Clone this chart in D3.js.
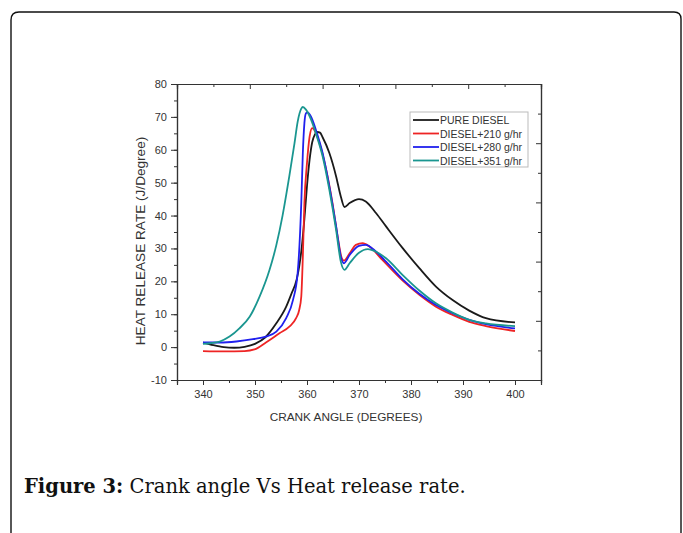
<!DOCTYPE html>
<html>
<head>
<meta charset="utf-8">
<script src="https://cdn.jsdelivr.net/npm/d3@7"></script>
<style>
  html, body { margin: 0; padding: 0; background: #fff; }
  svg { display: block; }
</style>
</head>
<body>
<svg id="chart" width="683" height="533"></svg>
<script>
// Crank angle (degrees) and heat release rate (J/Degree) for each fuel case
const pureDieselAngle = [340, 342, 344, 346, 348, 350, 352, 354, 356, 357, 358, 358.5, 359, 359.5, 360, 360.5, 361, 361.5, 362, 362.5, 363, 364.3, 365.6, 366.5, 367.2, 368.2, 370, 371.3, 373.3, 375.2, 378.4, 381.6, 384.8, 388, 391.2, 394.4, 400];
const pureDieselHRR   = [1.4, 0.6, 0.0, -0.2, 0.1, 1.0, 3.0, 7.0, 12.3, 16.2, 20.5, 24.5, 30.5, 39, 49, 57, 62.3, 64.6, 65.4, 65.2, 63.8, 59, 51.9, 45.8, 42.6, 43.8, 45, 44.3, 40.7, 36.7, 30.1, 24, 18.4, 14.3, 11.1, 8.8, 7.5];

const d210Angle = [340, 344, 348, 349.9, 352.1, 354.7, 356.6, 357.9, 358.5, 358.9, 359.2, 359.5, 360, 360.5, 361, 362.4, 363.7, 364.9, 365.9, 366.7, 367.1, 368.2, 369.4, 370.7, 372, 374.5, 378.4, 381.6, 384.8, 388, 391.2, 394.4, 400];
const d210HRR   = [-1.2, -1.3, -1.2, -0.7, 1.4, 4.2, 6.2, 8.8, 11.3, 15.4, 27.5, 43.8, 56, 64, 66.6, 62, 53.9, 43.8, 33.6, 27, 26.3, 28.5, 31.1, 31.6, 30.6, 26.5, 20.2, 15.9, 12.3, 9.8, 7.7, 6.4, 4.9];

const d280Angle = [340, 343.2, 346.4, 349.6, 352.1, 354.1, 356, 357.3, 358.2, 358.9, 359.2, 359.5, 359.8, 360.1, 360.8, 361.7, 363, 364.3, 365.6, 366.5, 367.1, 368.2, 370, 371.3, 373.3, 375.2, 378.4, 381.6, 384.8, 388, 391.2, 394.4, 400];
const d280HRR   = [1.4, 1.4, 1.7, 2.4, 3.2, 4.7, 8.8, 14.3, 22.5, 43.8, 59, 68.1, 71.1, 71.4, 70, 66.1, 59, 48.8, 36.7, 27.5, 25.5, 28, 30.8, 31.1, 29, 26, 20.6, 16.2, 12.8, 10.3, 8.3, 7, 5.7];

const d351Angle = [340, 343.2, 345.1, 347, 349, 350.9, 352.8, 354.1, 355.3, 356.6, 357.6, 358.2, 358.9, 359.2, 359.8, 360.8, 361.7, 363, 364.3, 365.6, 366.5, 367.2, 368.2, 370, 371.7, 373.3, 375.2, 378.4, 381.6, 384.8, 388, 391.2, 394.4, 400];
const d351HRR   = [1.0, 1.7, 3.2, 5.7, 9.3, 15.4, 23.5, 31, 40, 52, 62, 68.5, 72.5, 73, 72.2, 69.1, 65, 58, 47.8, 35.6, 26, 23.5, 25.5, 28.7, 29.8, 29, 27, 21.9, 17.2, 13.3, 10.5, 8.3, 7.2, 6.4];

const seriesNames  = ["PURE DIESEL", "DIESEL+210 g/hr", "DIESEL+280 g/hr", "DIESEL+351 g/hr"];
const seriesColors = ["#1a1a1a", "#ee2424", "#2020ee", "#1a9690"];

const xTicks = [340, 350, 360, 370, 380, 390, 400];
const yTicks = [-10, 0, 10, 20, 30, 40, 50, 60, 70, 80];

const series = [
  { angle: pureDieselAngle, hrr: pureDieselHRR },
  { angle: d210Angle, hrr: d210HRR },
  { angle: d280Angle, hrr: d280HRR },
  { angle: d351Angle, hrr: d351HRR }
].map((s, i) => ({
  name: seriesNames[i],
  color: seriesColors[i],
  points: s.angle.map((a, j) => ({ x: a, y: s.hrr[j] }))
}));

const svg = d3.select("#chart");
const axisColor = "#333";
const sans = "Liberation Sans, Arial, sans-serif";

// Page frame with rounded top corners
const frame = d3.path();
frame.moveTo(11, 540);
frame.lineTo(11, 20);
frame.quadraticCurveTo(11, 12, 19, 12);
frame.lineTo(674, 12);
frame.quadraticCurveTo(681, 12, 681, 19);
frame.lineTo(681, 540);
svg.append("path").attr("d", frame.toString())
  .attr("fill", "none").attr("stroke", "#111").attr("stroke-width", 1.4);

// Plot area
const L = 177, R = 541, T = 84, B = 380;
const x = d3.scaleLinear().domain([335, 405]).range([L, R]);
const y = d3.scaleLinear().domain([-10, 80]).range([B, T]);

const plot = svg.append("g");
const plain = d => String(d);

// Bottom axis: majors every 10, minors every 5, ticks outward
plot.append("g").attr("transform", `translate(0,${B})`)
  .call(d3.axisBottom(x).tickValues(d3.range(335, 406, 5)).tickSize(3).tickFormat(""));
plot.append("g").attr("transform", `translate(0,${B})`)
  .call(d3.axisBottom(x).tickValues(xTicks).tickSize(5).tickPadding(5).tickFormat(plain))
  .call(g => g.selectAll("text").attr("font-size", 11));

// Left axis
plot.append("g").attr("transform", `translate(${L},0)`)
  .call(d3.axisLeft(y).tickValues(d3.range(-10, 81, 5)).tickSize(3).tickFormat(""));
plot.append("g").attr("transform", `translate(${L},0)`)
  .call(d3.axisLeft(y).tickValues(yTicks).tickSize(6).tickPadding(4).tickFormat(plain))
  .call(g => g.selectAll("text").attr("font-size", 11));

// Mirror axes on top and right with their own ten-step spacing, ticks inward
const tScale = d3.scaleLinear().domain([0, 10]).range([L, R]);
const rScale = d3.scaleLinear().domain([0, 10]).range([B, T]);
plot.append("g").attr("transform", `translate(0,${T})`)
  .call(d3.axisTop(tScale).tickValues(d3.range(1, 10, 2)).tickSize(-3).tickFormat(""));
plot.append("g").attr("transform", `translate(0,${T})`)
  .call(d3.axisTop(tScale).tickValues(d3.range(2, 10, 2)).tickSize(-5).tickFormat(""));
plot.append("g").attr("transform", `translate(${R},0)`)
  .call(d3.axisRight(rScale).tickValues(d3.range(1, 10, 2)).tickSize(-3).tickFormat(""));
plot.append("g").attr("transform", `translate(${R},0)`)
  .call(d3.axisRight(rScale).tickValues(d3.range(2, 10, 2)).tickSize(-5).tickFormat(""));

plot.selectAll(".domain").attr("stroke", axisColor).attr("stroke-width", 1.2);
plot.selectAll(".tick line").attr("stroke", axisColor).attr("stroke-width", 1);
plot.selectAll(".tick text").attr("fill", "#333").attr("font-family", sans);

// Curves
const line = d3.line().x(d => x(d.x)).y(d => y(d.y)).curve(d3.curveMonotoneX);
svg.append("g").selectAll("path").data(series).join("path")
  .attr("d", d => line(d.points))
  .attr("fill", "none")
  .attr("stroke", d => d.color)
  .attr("stroke-width", 1.8)
  .attr("stroke-linejoin", "round");

// Axis titles
svg.append("text")
  .attr("x", 346).attr("y", 421)
  .attr("text-anchor", "middle")
  .attr("font-family", sans)
  .attr("font-size", 11.8).attr("fill", "#333")
  .text("CRANK ANGLE (DEGREES)");

svg.append("text")
  .attr("transform", "translate(145,241) rotate(-90)")
  .attr("text-anchor", "middle")
  .attr("font-family", sans)
  .attr("font-size", 13.6).attr("fill", "#333")
  .text("HEAT RELEASE RATE (J/Degree)");

// Legend
const lg = svg.append("g").attr("transform", "translate(410,112)");
lg.append("rect").attr("width", 118).attr("height", 55)
  .attr("fill", "#fff").attr("stroke", "#bbb").attr("stroke-width", 1);
const rows = lg.selectAll("g.row").data(series).join("g")
  .attr("class", "row")
  .attr("transform", (d, i) => `translate(0,${8 + i * 13.5})`);
rows.append("line").attr("x1", 3).attr("x2", 29).attr("y1", 0).attr("y2", 0)
  .attr("stroke", d => d.color).attr("stroke-width", 1.8);
rows.append("text").attr("x", 30).attr("y", 4)
  .attr("font-family", sans)
  .attr("font-size", 10.5).attr("fill", "#333")
  .text(d => d.name);

// Caption
const cap = svg.append("text").attr("x", 24).attr("y", 493)
  .attr("font-family", "DejaVu Serif, Liberation Serif, serif")
  .attr("font-size", 19.5).attr("fill", "#111");
cap.append("tspan").attr("font-weight", "bold").text("Figure 3:");
cap.append("tspan").text(" Crank angle Vs Heat release rate.");
</script>
</body>
</html>
